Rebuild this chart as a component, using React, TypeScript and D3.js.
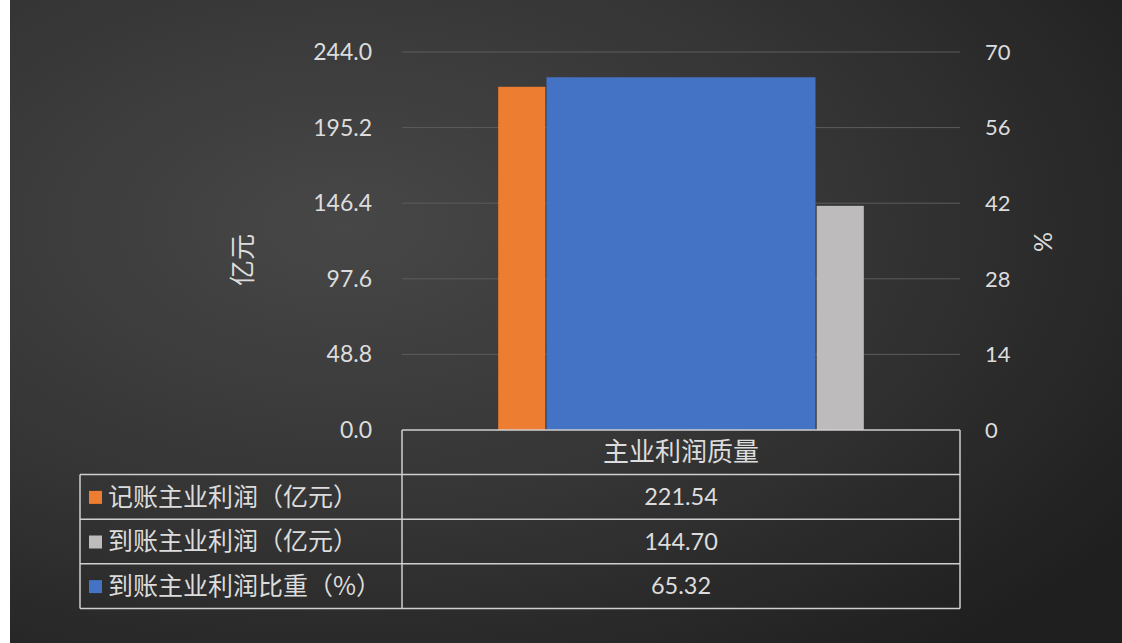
import React from 'react';
import * as d3 from 'd3';

const categories = ['主业利润质量'];
const seriesNames = ['记账主业利润（亿元）', '到账主业利润（亿元）', '到账主业利润比重（%）'];
const bookedProfit = [221.54];
const receivedProfit = [144.7];
const receivedShare = [65.32];
const leftTicks = [0, 48.8, 97.6, 146.4, 195.2, 244.0];
const rightTicks = [0, 14, 28, 42, 56, 70];
const tableValues = ['221.54', '144.70', '65.32'];

const COLORS = ['#ED7D31', '#BDBBBB', '#4472C4'];
const W = 1122;
const H = 643;
const plot = { left: 402, right: 960, top: 52, bottom: 430 };
const table = { left: 80, rowH: 44.6 };
const CJK = "'Noto Sans CJK SC', sans-serif";
const NUM = "Lato, 'Open Sans', sans-serif";
const TXT = '#dcdcdc';
const cjkStyle: any = { textSpacingTrim: 'space-all', fontKerning: 'none' };

export default function App() {
  const yLeft = d3.scaleLinear().domain([0, 244]).range([plot.bottom, plot.top]);
  const yRight = d3.scaleLinear().domain([0, 70]).range([plot.bottom, plot.top]);
  const xCat = d3.scaleBand().domain(categories).range([plot.left, plot.right]);

  // primary axis bars (orange, grey)
  const xPrimary = d3
    .scaleBand()
    .domain(['booked', 'received'])
    .range([0, xCat.bandwidth()])
    .paddingInner(0.852)
    .paddingOuter(0.302);
  // secondary axis bar (blue)
  const xSecondary = d3
    .scaleBand()
    .domain(categories)
    .range([plot.left, plot.right])
    .paddingOuter(0.537);

  const rows = [0, 1, 2];
  const tableBottom = plot.bottom + table.rowH * 4;

  return (
    <svg width={W} height={H} style={{ position: 'absolute', left: 0, top: 0 }}>
      <defs>
        <radialGradient id="bg" cx="0.3" cy="0.35" r="0.85">
          <stop offset="0%" stopColor="#474747" />
          <stop offset="55%" stopColor="#343434" />
          <stop offset="100%" stopColor="#1f1f1f" />
        </radialGradient>
      </defs>
      <rect x={0} y={0} width={W} height={H} fill="#ffffff" />
      <rect x={10} y={0} width={W - 10} height={H} fill="url(#bg)" />

      {/* gridlines */}
      {leftTicks.slice(1).map((t) => (
        <line key={t} x1={plot.left} x2={plot.right} y1={yLeft(t)} y2={yLeft(t)} stroke="#5c5c5c" strokeWidth={1} />
      ))}

      {/* bars */}
      {categories.map((c, i) => (
        <g key={c}>
          <rect
            x={(xCat(c) ?? 0) + (xPrimary('booked') ?? 0)}
            y={yLeft(bookedProfit[i])}
            width={xPrimary.bandwidth()}
            height={yLeft(0) - yLeft(bookedProfit[i])}
            fill={COLORS[0]}
          />
          <rect
            x={(xCat(c) ?? 0) + (xPrimary('received') ?? 0)}
            y={yLeft(receivedProfit[i])}
            width={xPrimary.bandwidth()}
            height={yLeft(0) - yLeft(receivedProfit[i])}
            fill={COLORS[1]}
          />
          <rect
            x={xSecondary(c)}
            y={yRight(receivedShare[i])}
            width={xSecondary.bandwidth()}
            height={yRight(0) - yRight(receivedShare[i])}
            fill={COLORS[2]}
          />
        </g>
      ))}

      {/* left ticks */}
      {leftTicks.map((t) => (
        <text key={t} x={372} y={yLeft(t)} dy="0.35em" textAnchor="end" fill={TXT} fontSize={23} fontFamily={NUM}>
          {t.toFixed(1)}
        </text>
      ))}
      {/* right ticks */}
      {rightTicks.map((t) => (
        <text key={t} x={985} y={yRight(t)} dy="0.35em" textAnchor="start" fill={TXT} fontSize={22} fontFamily={NUM}>
          {t}
        </text>
      ))}

      {/* axis titles */}
      <text transform="translate(243,260) rotate(-90)" textAnchor="middle" dy="0.35em" fill={TXT} fontSize={26} fontFamily={CJK}>
        亿元
      </text>
      <text transform="translate(1043,242) rotate(90)" textAnchor="middle" dy="0.35em" fill={TXT} fontSize={25} fontFamily={NUM}>
        %
      </text>

      {/* data table */}
      <g stroke="#cfcfcf" strokeWidth={1.5} fill="none">
        <line x1={plot.left} x2={plot.right} y1={plot.bottom} y2={plot.bottom} />
        <line x1={plot.left} x2={plot.left} y1={plot.bottom} y2={tableBottom} />
        <line x1={plot.right} x2={plot.right} y1={plot.bottom} y2={tableBottom} />
        <line x1={table.left} x2={table.left} y1={plot.bottom + table.rowH} y2={tableBottom} />
        {[1, 2, 3, 4].map((r) => (
          <line key={r} x1={table.left} x2={plot.right} y1={plot.bottom + table.rowH * r} y2={plot.bottom + table.rowH * r} />
        ))}
      </g>
      <text x={(plot.left + plot.right) / 2} y={plot.bottom + table.rowH / 2} dy="0.35em" textAnchor="middle" fill={TXT} fontSize={26} fontFamily={CJK} style={cjkStyle}>
        {categories[0]}
      </text>
      {rows.map((r) => {
        const cy = plot.bottom + table.rowH * (r + 1.5);
        return (
          <g key={r}>
            <rect x={89} y={cy - 6} width={13} height={13} fill={COLORS[r]} />
            <text x={108} y={cy} dy="0.35em" fill={TXT} fontSize={25} fontFamily={CJK} style={cjkStyle}>
              {seriesNames[r]}
            </text>
            <text x={(plot.left + plot.right) / 2} y={cy} dy="0.35em" textAnchor="middle" fill={TXT} fontSize={23.5} fontFamily={NUM}>
              {tableValues[r]}
            </text>
          </g>
        );
      })}
    </svg>
  );
}
